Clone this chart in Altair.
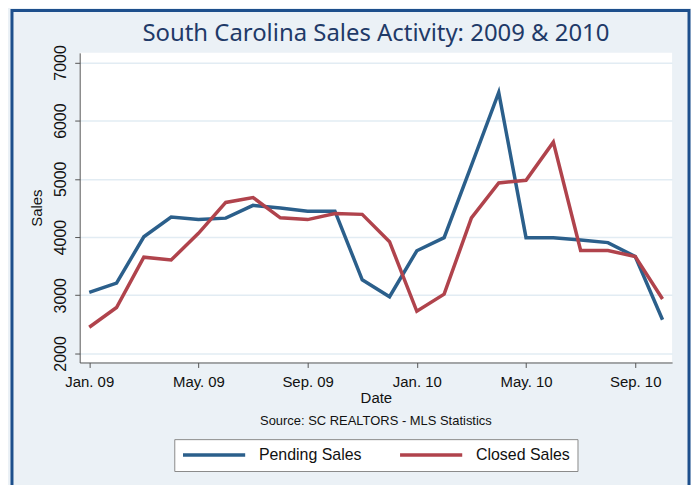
import altair as alt
import pandas as pd

# ---- data ----
months = ["Jan. 09", "Feb. 09", "Mar. 09", "Apr. 09", "May. 09", "Jun. 09",
          "Jul. 09", "Aug. 09", "Sep. 09", "Oct. 09", "Nov. 09", "Dec. 09",
          "Jan. 10", "Feb. 10", "Mar. 10", "Apr. 10", "May. 10", "Jun. 10",
          "Jul. 10", "Aug. 10", "Sep. 10", "Oct. 10"]
pending_sales = [3050, 3210, 4005, 4345, 4300, 4325, 4545, 4500, 4445, 4445, 3265, 2975,
                 3765, 3990, 5230, 6485, 3990, 3990, 3950, 3905, 3665, 2580]
closed_sales = [2450, 2790, 3655, 3605, 4065, 4595, 4680, 4330, 4300, 4405, 4390, 3920,
                2725, 3020, 4330, 4930, 4975, 5630, 3770, 3770, 3665, 2935]
tick_months = ["Jan. 09", "May. 09", "Sep. 09", "Jan. 10", "May. 10", "Sep. 10"]
y_ticks = [2000, 3000, 4000, 5000, 6000, 7000]
series_names = ["Pending Sales", "Closed Sales"]
series_colors = ["#2b5f8b", "#b0434c"]
title_text = "South Carolina Sales Activity: 2009 & 2010"
source_note = "Source: SC REALTORS - MLS Statistics"

df = pd.DataFrame({
    "Date": months + months,
    "Sales": pending_sales + closed_sales,
    "Series": [series_names[0]] * len(months) + [series_names[1]] * len(months),
})

W, H = 595, 311
FONT = "Liberation Sans"

lines = alt.Chart(df).mark_line(strokeWidth=3.5, strokeJoin="miter").encode(
    x=alt.X("Date:O", sort=months,
            scale=alt.Scale(type="point", padding=0.35, align=0.5),
            axis=alt.Axis(values=tick_months, labelAngle=0, tickSize=5,
                          domainColor="#555555", tickColor="#555555",
                          labelFontSize=15, labelColor="#111111", labelFont=FONT,
                          labelPadding=7, grid=False,
                          title="Date", titleFont=FONT, titleFontSize=15,
                          titleFontWeight="normal", titleColor="#111111",
                          titlePadding=1)),
    y=alt.Y("Sales:Q",
            scale=alt.Scale(domain=[1845, 7165], nice=False, zero=False),
            axis=alt.Axis(values=y_ticks, format="d", labelAngle=270, labelAlign="center",
                          labelBaseline="bottom", tickSize=5,
                          domainColor="#555555", tickColor="#555555",
                          labelFontSize=16, labelColor="#111111", labelFont=FONT,
                          labelPadding=6, grid=True, gridColor="#e2ecf3",
                          gridWidth=1.5,
                          title="Sales", titleFont=FONT, titleFontSize=15,
                          titleFontWeight="normal", titleColor="#111111",
                          titlePadding=8)),
    color=alt.Color("Series:N", sort=series_names,
                    scale=alt.Scale(domain=series_names, range=series_colors),
                    legend=alt.Legend(title=None, orient="none", legendX=95, legendY=388,
                                      direction="horizontal", symbolType="stroke",
                                      symbolSize=3900, symbolStrokeWidth=3.5,
                                      labelFontSize=16, labelFont=FONT,
                                      labelColor="#111111", labelOffset=12,
                                      columnPadding=36, padding=7, clipHeight=18,
                                      fillColor="white", strokeColor="#8a8a8a")),
)

title = alt.Chart(alt.Data(values=[{"t": title_text}])).mark_text(
    fontSize=24, font="Noto Sans", color="#1f3a68", baseline="middle", clip=False
).encode(text="t:N", x=alt.value(W / 2), y=alt.value(-19))

note = alt.Chart(alt.Data(values=[{"t": source_note}])).mark_text(
    fontSize=13, font=FONT, color="#111111"
).encode(text="t:N", x=alt.value(W / 2), y=alt.value(370))

frame = alt.Chart(alt.Data(values=[{"f": 1}])).mark_rect(
    filled=False, stroke="#1d4f8c", strokeWidth=3, clip=False
).encode(x=alt.value(-68), x2=alt.value(612), y=alt.value(-42.5), y2=alt.value(600))

chart = alt.layer(lines, title, note, frame).properties(
    width=W, height=H,
    autosize=alt.AutoSizeParams(type="none"),
    padding={"left": 72, "top": 44, "right": 19, "bottom": 122},
).configure(background="#ebf1f6").configure_view(fill="white", stroke=None)

chart.save("out.html", embed_options={"renderer": "svg", "actions": False})
